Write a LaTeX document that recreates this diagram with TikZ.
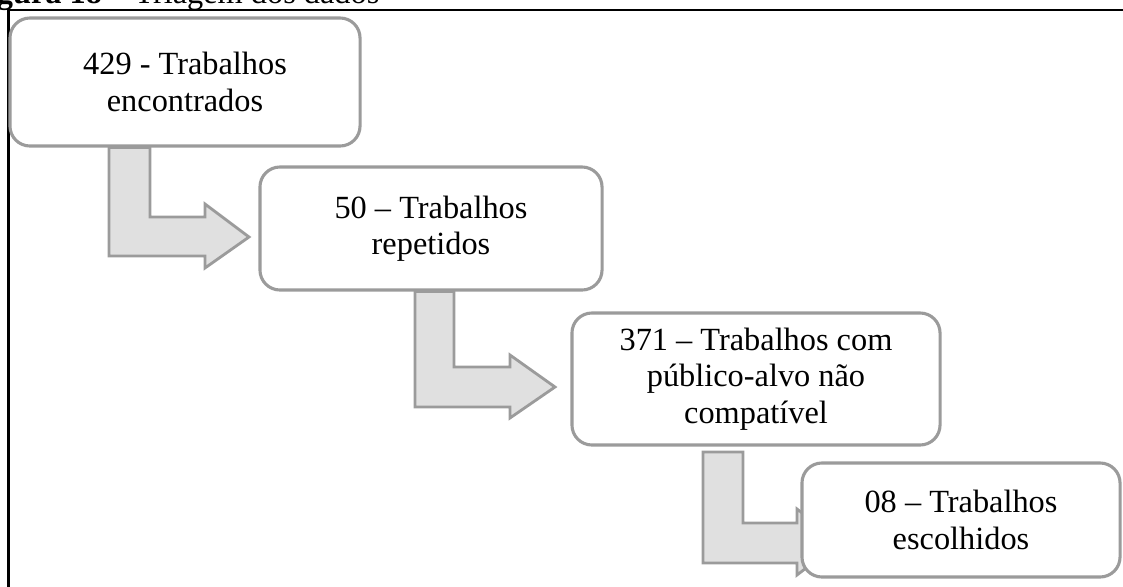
\documentclass[tikz,border=0pt]{standalone}
\usepackage{fontspec}
\setmainfont{Liberation Serif}
\usetikzlibrary{backgrounds}
\definecolor{triagemgray}{RGB}{155,155,155}
\definecolor{triagemfill}{RGB}{224,224,224}

\begin{document}
\begin{tikzpicture}[x=0.025cm, y=-0.025cm,
 box/.style={draw=triagemgray, fill=white, line width=2.2pt, rounded corners=0.5cm, align=center, font=\fontsize{23}{26}\selectfont},
 flow/.style={draw=triagemgray, fill=triagemfill, line width=2pt, line join=miter}]
 \useasboundingbox (0,0) rectangle (1123,586);
 \draw[line width=2pt] (8.5,600) -- (8.5,10) -- (1140,10);
 \node[anchor=base west, font=\fontsize{23}{26}\selectfont] (cap) at (-8,3) {\textbf{gura 18} – Triagem dos dados};
 \node[box, minimum width=8.75cm, minimum height=3.2cm] (b1) at (185,82) {429 - Trabalhos\\encontrados};
 \node[box, minimum width=8.55cm, minimum height=3.075cm] (b2) at (431,228.5) {50 – Trabalhos\\repetidos};
 \node[box, minimum width=9.2cm, minimum height=3.3cm] (b3) at (756,379) {371 – Trabalhos com\\público-alvo não\\compatível};
 \node[box, minimum width=7.95cm, minimum height=2.85cm] (b4) at (961,520) {08 – Trabalhos\\escolhidos};
 % bent arrows behind the boxes
 \begin{scope}[on background layer]
 \draw[flow] (109,0 |- b1.south) -- (150,0 |- b1.south) -- (150,217) -- (205,217) -- (205,204) -- (249,237) -- (205,268) -- (205,256) -- (109,256) -- cycle;
 \draw[flow] (415,0 |- b2.south) -- (454,0 |- b2.south) -- (454,367) -- (510,367) -- (510,355) -- (555,387) -- (510,418) -- (510,407) -- (415,407) -- cycle;
 \draw[flow] (703,452) -- (743,452) -- (743,523) -- (797,523) -- (797,509) -- (840,542) -- (797,575) -- (797,563) -- (703,563) -- cycle;
 \end{scope}
\end{tikzpicture}
\end{document}
